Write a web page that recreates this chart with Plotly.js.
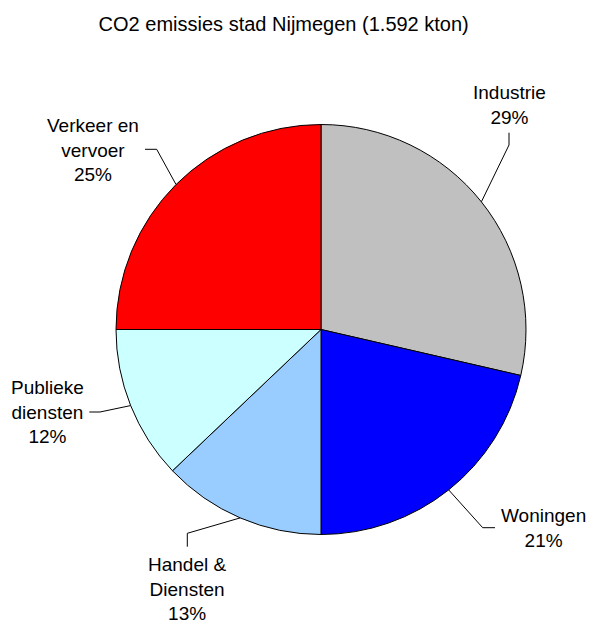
<!DOCTYPE html>
<html>
<head>
<meta charset="utf-8">
<script src="https://cdn.plot.ly/plotly-3.0.1.min.js"></script>
<style>html,body{margin:0;padding:0;background:#fff;}#chart{width:594px;height:622px;}</style>
</head>
<body>
<div id="chart"></div>
<script>
// ---- data ----
var categories = ["Industrie", "Woningen", "Handel &<br>Diensten", "Publieke<br>diensten", "Verkeer en<br>vervoer"];
var shares = [28.6, 21.4, 12.9, 12.1, 25.0];
var colors = ["#C0C0C0", "#0000FF", "#99CCFF", "#CCFFFF", "#FF0000"];
var chartTitle = "CO2 emissies stad Nijmegen (1.592 kton)";

// ---- layout geometry (pixels) ----
var W = 594, H = 622;
var cx = 321, cy = 329.5, R = 205;
// label centre, line start near label, elbow point
var labelPos = [
  {x: 509.7, y: 104.8, s: [509, 132.7], e: [509, 145]},
  {x: 543.3, y: 527.5, s: [495, 527.7], e: [482.7, 527.7]},
  {x: 187, y: 589.3, s: [187.3, 546.7], e: [187.3, 533.3]},
  {x: 47.5, y: 412.3, s: [89.3, 412], e: [100, 412]},
  {x: 92.5, y: 150.5, s: [145, 149.3], e: [156.7, 149.3]}
];

function px(x) { return x / W; }
function py(y) { return 1 - y / H; }

var total = shares.reduce(function (a, b) { return a + b; }, 0);
var annotations = [], shapes = [];
var cum = 0;
shares.forEach(function (v, i) {
  var mid = (cum + v / 2) / total * 2 * Math.PI;
  cum += v;
  var ex = cx + R * Math.sin(mid), ey = cy - R * Math.cos(mid);
  var lp = labelPos[i];
  var pct = Math.round(v / total * 100) + "%";
  annotations.push({
    xref: "paper", yref: "paper", x: px(lp.x), y: py(lp.y),
    xanchor: "center", yanchor: "middle", showarrow: false,
    text: categories[i] + "<br>" + pct,
    font: {family: "Liberation Sans, Arial, sans-serif", size: 19, color: "#000"}
  });
  shapes.push({
    type: "path", xref: "paper", yref: "paper",
    path: "M" + px(lp.s[0]) + "," + py(lp.s[1]) +
          " L" + px(lp.e[0]) + "," + py(lp.e[1]) +
          " L" + px(ex) + "," + py(ey),
    line: {color: "#000", width: 1}
  });
});

var trace = {
  type: "pie",
  labels: categories,
  values: shares,
  sort: false,
  direction: "clockwise",
  rotation: 0,
  textinfo: "none",
  hoverinfo: "skip",
  marker: {colors: colors, line: {color: "#000", width: 1}},
  domain: {x: [px(cx - R), px(cx + R)], y: [py(cy + R), py(cy - R)]},
  showlegend: false
};

var layout = {
  width: W, height: H,
  margin: {l: 0, r: 0, t: 0, b: 0},
  paper_bgcolor: "#fff",
  title: {
    text: chartTitle,
    x: 283.7 / W, xanchor: "center", xref: "paper",
    y: 1 - 24 / H, yanchor: "middle", yref: "container",
    font: {family: "Liberation Sans, Arial, sans-serif", size: 20, color: "#000"}
  },
  annotations: annotations,
  shapes: shapes
};

Plotly.newPlot("chart", [trace], layout, {displayModeBar: false, staticPlot: true});
</script>
</body>
</html>
